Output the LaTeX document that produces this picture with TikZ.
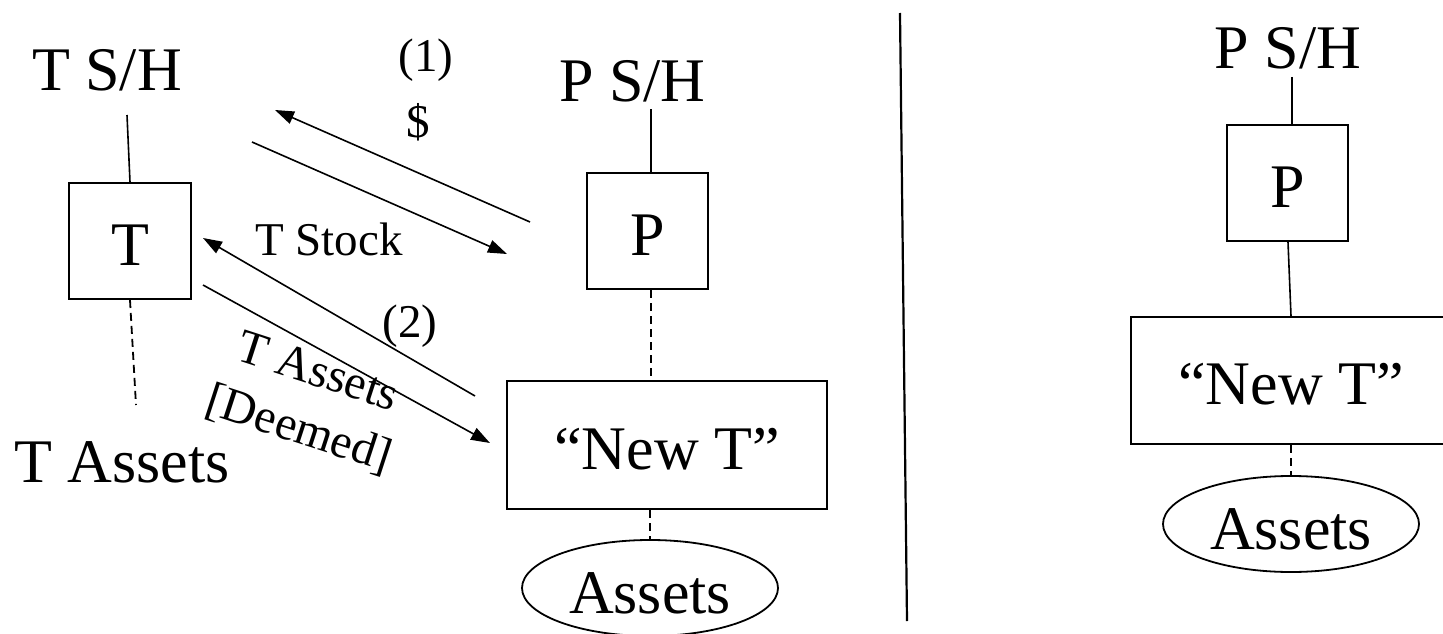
\documentclass[tikz,border=0pt]{standalone}
\usepackage{fontspec}
\setmainfont{Liberation Serif}
\usetikzlibrary{arrows.meta,shapes.geometric,calc}
\begin{document}
\begin{tikzpicture}[x=1pt,y=-1pt,
  big/.style={font=\fontsize{62}{74}\selectfont},
  small/.style={font=\fontsize{47}{58}\selectfont},
  box/.style={draw,line width=2pt,inner sep=0pt,text height=48pt,text depth=0pt},
  oval/.style={draw,ellipse,line width=1.8pt,inner sep=0pt,minimum width=256pt,minimum height=96pt,text height=50pt,text depth=0pt},
  arr/.style={line width=1.6pt,-{Triangle[length=19pt,width=13pt]}},
  conn/.style={line width=1.6pt},
  heavy/.style={line width=2.6pt},
  dline/.style={line width=1.8pt,dash pattern=on 8pt off 5pt},
]
\clip (0,0) rectangle (1443,634);
\fill[white] (0,0) rectangle (1443,634);

% ---- left part ----
\node[big,anchor=base] (TSH) at (107,91) {T S/H};
\node[box,big,minimum width=122pt,minimum height=116pt] (T) at (130,241) {T};
\node[big,anchor=base] (TA) at (122,482) {T Assets};
\node[big,anchor=base] (PSH) at (632.5,101) {P S/H};
\node[box,big,minimum width=121pt,minimum height=116pt] (P) at (647.5,231) {P};
\node[box,big,minimum width=320pt,minimum height=128pt] (NT) at (667,445) {“New T”};
\node[oval,big] (A) at (650,588) {Assets};

\coordinate (tshb) at (127,115);
\coordinate (tad) at (136,405);
\coordinate (pshb) at (651,109);
\draw[conn] (tshb) -- (T.north);
\draw[dline] (T.south) -- (tad);
\draw[heavy] (pshb) -- (pshb |- P.north);
\draw[dline] ([xshift=3.5pt]P.south) -- ([xshift=3.5pt]P.south |- NT.north);
\draw[dline] (A.north |- NT.south) -- (A.north);

% arrows
\coordinate (a1s) at (530,222); \coordinate (a1e) at (275,110);
\coordinate (a2s) at (252,142); \coordinate (a2e) at (507,254);
\coordinate (a3s) at (475,396); \coordinate (a3e) at (203,238);
\coordinate (a4s) at (203,285); \coordinate (a4e) at (490,443);
\draw[arr] (a1s) -- (a1e);
\draw[arr] (a2s) -- (a2e);
\draw[arr] (a3s) -- (a3e);
\draw[arr] (a4s) -- (a4e);

\node[small,anchor=base] (l1) at (426,72) {(1)};
\node[small,anchor=base] (ld) at (418,137) {\$};
\node[small,anchor=base] (ls) at (329,255) {T Stock};
\node[small,anchor=base] (l2) at (410,337) {(2)};
\node[font=\fontsize{48}{60}\selectfont,rotate=-18,align=center,inner sep=0pt] (lta) at (308,402) {T Assets\\{[Deemed]}};

% divider
\coordinate (d1) at (900,13);
\coordinate (d2) at (907,621);
\draw[line width=2.2pt] (d1) -- (d2);

% ---- right part ----
\node[big,anchor=base] (PSH2) at (1288,69) {P S/H};
\node[box,big,minimum width=121pt,minimum height=116pt] (P2) at (1287.5,183) {P};
\node[box,big,minimum width=320pt,minimum height=127pt] (NT2) at (1291,380.5) {“New T”};
\node[oval,big] (A2) at (1291,524) {Assets};

\coordinate (psh2b) at (1292,77);
\draw[heavy] (psh2b) -- (psh2b |- P2.north);
\draw[conn] ([xshift=0.5pt]P2.south) -- (NT2.north);
\draw[dline] (NT2.south) -- (A2.north);
\end{tikzpicture}
\end{document}
